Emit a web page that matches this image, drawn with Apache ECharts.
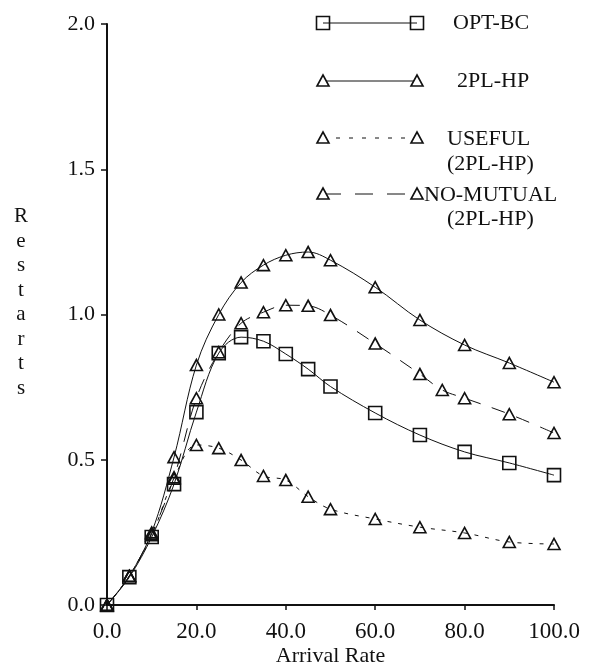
<!DOCTYPE html>
<html>
<head>
<meta charset="utf-8">
<script src="https://cdn.jsdelivr.net/npm/echarts@6/dist/echarts.min.js"></script>
<style>
html,body{margin:0;padding:0;background:#fff;}
#chart{width:592px;height:664px;}
</style>
</head>
<body>
<div id="chart"></div>
<script>
// ---- data ----
var xTicks = ['0.0', '20.0', '40.0', '60.0', '80.0', '100.0'];
var yTicks = ['0.0', '0.5', '1.0', '1.5', '2.0'];
var arrivalRate = [0, 5, 10, 15, 20, 25, 30, 35, 40, 45, 50, 60, 70, 80, 90, 100];
var optBC =    [0, 0.096, 0.234, 0.416, 0.664, 0.867, 0.922, 0.908, 0.864, 0.812, 0.752, 0.661, 0.585, 0.527, 0.489, 0.447];
var hp2pl =    [0, 0.100, 0.250, 0.509, 0.826, 1.000, 1.110, 1.170, 1.204, 1.215, 1.187, 1.094, 0.981, 0.895, 0.833, 0.767];
var useful =   [0, 0.100, 0.240, 0.435, 0.551, 0.540, 0.499, 0.444, 0.430, 0.373, 0.330, 0.296, 0.268, 0.248, 0.217, 0.210];
var arrivalRateNM = [0, 5, 10, 15, 20, 25, 30, 35, 40, 45, 50, 60, 70, 75, 80, 90, 100];
var noMutual = [0, 0.100, 0.245, 0.440, 0.712, 0.870, 0.970, 1.008, 1.032, 1.030, 0.998, 0.900, 0.795, 0.740, 0.712, 0.657, 0.592];
var seriesNames = ['OPT-BC', '2PL-HP', 'USEFUL\n(2PL-HP)', 'NO-MUTUAL\n(2PL-HP)'];

function pairs(xs, ys) { return xs.map(function (x, i) { return [x, ys[i]]; }); }

var FONT = 'Liberation Serif';
var chart = echarts.init(document.getElementById('chart'), null, {renderer: 'canvas'});

var triPath = 'path://M0,10 L6,0 L12,10 Z';

function mkSeries(name, data, symbol, dash, size) {
  return {
    name: name,
    type: 'line',
    data: data,
    smooth: 0.35,
    symbol: symbol,
    symbolSize: size,
    showAllSymbol: true,
    lineStyle: {color: '#111', width: 1, type: dash},
    itemStyle: {color: 'rgba(0,0,0,0)', borderColor: '#111', borderWidth: 1.6},
    emphasis: {disabled: true},
    z: 3
  };
}

// legend drawn as graphic elements
var legendRows = [
  {y: 23, sym: 'rect', dash: null, texts: [{t: 'OPT-BC', x: 453, y: 23}]},
  {y: 81, sym: 'tri', dash: null, texts: [{t: '2PL-HP', x: 457, y: 81}]},
  {y: 138, sym: 'tri', dash: [4, 9], texts: [{t: 'USEFUL', x: 447, y: 139}, {t: '(2PL-HP)', x: 447, y: 164}]},
  {y: 194, sym: 'tri', dash: [18, 14], texts: [{t: 'NO-MUTUAL', x: 424, y: 195}, {t: '(2PL-HP)', x: 447, y: 219}]}
];
var graphics = [];
var lx1 = 323, lx2 = 417;
legendRows.forEach(function (r) {
  graphics.push({type: 'line', shape: {x1: lx1, y1: r.y, x2: lx2, y2: r.y},
    style: {stroke: '#111', lineWidth: 1, lineDash: r.dash || null}});
  [lx1, lx2].forEach(function (cx) {
    if (r.sym === 'rect') {
      graphics.push({type: 'rect', shape: {x: cx - 6.5, y: r.y - 6.5, width: 13, height: 13},
        style: {fill: 'rgba(0,0,0,0)', stroke: '#111', lineWidth: 1.6}});
    } else {
      graphics.push({type: 'polygon', shape: {points: [[cx - 6, r.y + 5], [cx, r.y - 6], [cx + 6, r.y + 5]]},
        style: {fill: '#fff', stroke: '#111', lineWidth: 1.6}});
    }
  });
  r.texts.forEach(function (tx) {
    graphics.push({type: 'text', x: tx.x, y: tx.y,
      style: {text: tx.t, fill: '#111', font: '22px "' + FONT + '"', textVerticalAlign: 'middle', textAlign: 'left'}});
  });
});

var option = {
  animation: false,
  backgroundColor: '#fff',
  grid: {left: 107, right: 38, top: 24, bottom: 59, containLabel: false, outerBoundsMode: 'none'},
  xAxis: {
    type: 'value', min: 0, max: 100, interval: 20,
    name: 'Arrival Rate', nameLocation: 'middle', nameGap: 40, nameMoveOverlap: false,
    nameTextStyle: {fontFamily: FONT, fontSize: 22, color: '#111', verticalAlign: 'top', lineHeight: 22},
    axisLine: {onZero: false, lineStyle: {color: '#111', width: 2}},
    axisTick: {show: true, length: 5, lineStyle: {color: '#111', width: 1.5}},
    axisLabel: {fontFamily: FONT, fontSize: 23, color: '#111', margin: 15,
      formatter: function (v) { return xTicks[Math.round(v / 20)]; }},
    splitLine: {show: false}
  },
  yAxis: {
    type: 'value', min: 0, max: 2, interval: 0.5,
    name: 'R\ne\ns\nt\na\nr\nt\ns\n ', nameLocation: 'middle', nameRotate: 0, nameGap: 86,
    nameTextStyle: {fontFamily: FONT, fontSize: 21, color: '#111', align: 'center', verticalAlign: 'middle', lineHeight: 24.5},
    axisLine: {show: true, lineStyle: {color: '#111', width: 2}},
    axisTick: {show: true, length: 6, lineStyle: {color: '#111', width: 1.5}},
    axisLabel: {fontFamily: FONT, fontSize: 22, color: '#111', margin: 12,
      formatter: function (v) { return yTicks[Math.round(v / 0.5)]; }},
    splitLine: {show: false}
  },
  series: [
    mkSeries(seriesNames[0], pairs(arrivalRate, optBC), 'rect', 'solid', 13),
    mkSeries(seriesNames[1], pairs(arrivalRate, hp2pl), triPath, 'solid', [12, 11]),
    mkSeries(seriesNames[2], pairs(arrivalRate, useful), triPath, [4, 7], [12, 11]),
    mkSeries(seriesNames[3], pairs(arrivalRateNM, noMutual), triPath, [14, 12], [12, 11])
  ],
  graphic: graphics
};
chart.setOption(option);
</script>
</body>
</html>
